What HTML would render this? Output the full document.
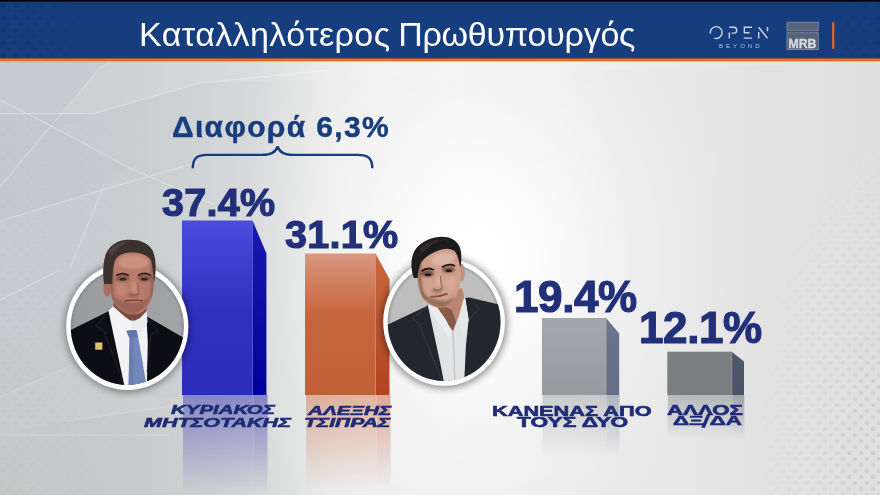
<!DOCTYPE html>
<html lang="el">
<head>
<meta charset="utf-8">
<title>Καταλληλότερος Πρωθυπουργός</title>
<style>
html,body{margin:0;padding:0;}
body{width:880px;height:495px;overflow:hidden;position:relative;background:#dcdcdc;font-family:"Liberation Sans",sans-serif;}
#stage{position:absolute;left:0;top:0;width:880px;height:495px;overflow:hidden;
  background:
    radial-gradient(ellipse 260px 330px at 480px 260px, rgba(255,255,255,1) 0%, rgba(255,255,255,0.8) 25%, rgba(255,255,255,0.4) 50%, rgba(255,255,255,0.29) 60%, rgba(255,255,255,0.09) 80%, rgba(255,255,255,0) 100%),
    radial-gradient(ellipse 300px 230px at 0px 495px, rgba(197,195,192,0.55) 0%, rgba(197,195,192,0.3) 50%, rgba(197,195,192,0) 100%),
    linear-gradient(90deg, #c7cbd0 0px, #c9cdd0 130px, #d6d8da 250px, #e0e1e1 290px, #ebebeb 335px, #efefef 450px, #ebebeb 560px, #e8e8e8 620px, #e7e7e7 700px, #e2e2e2 760px, #dfdfdf 880px);
}
#topbar{position:absolute;left:0;top:0;width:880px;height:59px;background:#163d7e;}
#title{position:absolute;left:139px;top:13.5px;width:494px;height:40px;color:#fff;font-size:34px;line-height:40px;white-space:nowrap;letter-spacing:0.05px;}
.pct,#diff,#title,.ln,#hdr{will-change:transform;}
.pct{position:absolute;color:#22307a;font-weight:bold;font-size:39.5px;line-height:40px;white-space:nowrap;letter-spacing:0.3px;-webkit-text-stroke:1.2px #22307a;}
#diff{position:absolute;color:#173d7e;font-weight:bold;font-size:30px;line-height:32px;white-space:nowrap;letter-spacing:1.35px;-webkit-text-stroke:0.45px #173d7e;}
.ln{position:absolute;display:block;color:#1f2d78;font-weight:bold;white-space:pre;transform-origin:0 0;-webkit-text-stroke:0.6px #1f2d78;}
.ln.it{font-style:italic;}
svg{position:absolute;left:0;top:0;}
</style>
</head>
<body>
<div id="stage">
<svg id="deco" width="880" height="495" viewBox="0 0 880 495">
  <defs>
    <pattern id="gd" x="0" y="0" width="12" height="12" patternUnits="userSpaceOnUse"><ellipse cx="3" cy="3" rx="2.3" ry="1.9" fill="#bdbdbd"/><ellipse cx="9" cy="9" rx="2.3" ry="1.9" fill="#bdbdbd"/></pattern>
    <linearGradient id="gfR" x1="0" y1="0" x2="1" y2="0"><stop offset="0" stop-color="#fff" stop-opacity="0"/><stop offset="0.5" stop-color="#fff" stop-opacity="0.10"/><stop offset="1" stop-color="#fff" stop-opacity="0.30"/></linearGradient>
    <linearGradient id="gfL" x1="0" y1="0" x2="1" y2="0"><stop offset="0" stop-color="#fff" stop-opacity="0.2"/><stop offset="1" stop-color="#fff" stop-opacity="0"/></linearGradient>
    <radialGradient id="gfRR" cx="880" cy="470" r="1" gradientUnits="userSpaceOnUse" gradientTransform="translate(880 470) scale(125 330) translate(-880 -470)"><stop offset="0" stop-color="#fff" stop-opacity="0.5"/><stop offset="0.5" stop-color="#fff" stop-opacity="0.22"/><stop offset="1" stop-color="#fff" stop-opacity="0"/></radialGradient>
    <mask id="mgR"><rect x="740" y="61" width="140" height="434" fill="url(#gfRR)"/></mask>
    <mask id="mgL"><rect x="0" y="110" width="140" height="385" fill="url(#gfL)"/></mask>
  </defs>
  <!-- facets -->
  <polygon points="0,113.7 94,113.7 57,129 127,167 94,192 0,221" fill="#b9bec3" opacity="0.22"/>
  <polygon points="100,67.7 111,62 880,62 200,83 94,113.7 62,113.7" fill="#ffffff" opacity="0.10"/>
  <polygon points="0,397 72,365 110,392 200,402 67,421 0,435" fill="#ffffff" opacity="0.06"/>
  <rect x="740" y="61" width="140" height="434" fill="url(#gd)" mask="url(#mgR)"/>
  <rect x="0" y="110" width="140" height="385" fill="url(#gd)" mask="url(#mgL)"/>
  <g fill="none" stroke="#ffffff" stroke-width="1" opacity="0.33">
    <path d="M111,62 L100,67.7 L0,186.7"/>
    <path d="M0,113.7 L94,113.7 L200,83 L330,70"/>
    <path d="M0,100 L57,129 L127,167 L215,205"/>
    <path d="M200,161.7 L94,192.4 L0,221"/>
    <path d="M103.6,186.7 L70,268"/>
    <path d="M0,300 L60,270"/>
    <path d="M0,397 L72,365 L110,392" opacity="0.6"/>
    <path d="M67,421 L200,402" opacity="0.6"/>
    <path d="M0,435 L170,435" opacity="0.5"/>
  </g>
</svg>


<svg id="bars" width="880" height="495" viewBox="0 0 880 495">
  <defs>
    <linearGradient id="gBlueF" x1="0" y1="0" x2="0" y2="1"><stop offset="0" stop-color="#4b4bdc"/><stop offset="0.25" stop-color="#3d3dcf"/><stop offset="0.5" stop-color="#3131c1"/><stop offset="1" stop-color="#2d2dbb"/></linearGradient>
    <linearGradient id="gBlueS" x1="0" y1="0" x2="0" y2="1"><stop offset="0" stop-color="#1a1ab0"/><stop offset="1" stop-color="#02029a"/></linearGradient>
    <linearGradient id="gOrF" x1="0" y1="0" x2="0" y2="1"><stop offset="0" stop-color="#da987f"/><stop offset="0.22" stop-color="#cf7d5c"/><stop offset="0.42" stop-color="#c5663f"/><stop offset="1" stop-color="#c16038"/></linearGradient>
    <linearGradient id="gOrS" x1="0" y1="0" x2="0" y2="1"><stop offset="0" stop-color="#c8683f"/><stop offset="1" stop-color="#b14420"/></linearGradient>
    <linearGradient id="gG1F" x1="0" y1="0" x2="0" y2="1"><stop offset="0" stop-color="#a4a8ac"/><stop offset="1" stop-color="#959a9e"/></linearGradient>
    <linearGradient id="gG1S" x1="0" y1="0" x2="0" y2="1"><stop offset="0" stop-color="#6c748c"/><stop offset="1" stop-color="#666e86"/></linearGradient>
    <linearGradient id="gG2F" x1="0" y1="0" x2="0" y2="1"><stop offset="0" stop-color="#7c8184"/><stop offset="1" stop-color="#787d80"/></linearGradient>
    <linearGradient id="gG2S" x1="0" y1="0" x2="0" y2="1"><stop offset="0" stop-color="#4e576b"/><stop offset="1" stop-color="#4a5367"/></linearGradient>
    <linearGradient id="fade" x1="0" y1="0" x2="0" y2="1"><stop offset="0" stop-color="#fff" stop-opacity="0.46"/><stop offset="1" stop-color="#fff" stop-opacity="0"/></linearGradient>
    <mask id="mBlue"><rect x="170" y="395" width="110" height="100" fill="url(#fade)"/></mask>
    <mask id="mOr"><rect x="295" y="395" width="110" height="95" fill="url(#fade)"/></mask>
    <mask id="mG1"><rect x="530" y="395" width="110" height="62" fill="url(#fade)"/></mask>
    <mask id="mG2"><rect x="655" y="395" width="110" height="44" fill="url(#fade)"/></mask>
  </defs>

  <!-- reflections -->
  <g mask="url(#mBlue)"><rect x="183" y="395" width="70.5" height="100" fill="#3030b3"/><rect x="253.5" y="395" width="14" height="100" fill="#1c1ca0"/></g>
  <g mask="url(#mOr)"><rect x="306" y="395" width="70.5" height="100" fill="#cb693e"/><rect x="376.5" y="395" width="14" height="100" fill="#c2502c"/></g>
  <g mask="url(#mG1)"><rect x="542.5" y="395" width="64" height="70" fill="#959a9e"/><rect x="606.5" y="395" width="13" height="70" fill="#687085"/></g>
  <g mask="url(#mG2)"><rect x="667.8" y="395" width="64.5" height="50" fill="#797e81"/><rect x="732.3" y="395" width="12" height="50" fill="#4b5468"/></g>

  <!-- bars -->
  <rect x="182" y="220.5" width="70.5" height="174.5" fill="url(#gBlueF)"/>
  <polygon points="252.5,220.5 266.4,253.5 266.4,395 252.5,395" fill="url(#gBlueS)"/>
  <rect x="252.2" y="220.5" width="0.8" height="174.5" fill="#5c5ce0" opacity="0.7"/>

  <rect x="305" y="253.5" width="70.5" height="141.5" fill="url(#gOrF)"/>
  <polygon points="375.5,253.5 389.5,279 389.5,395 375.5,395" fill="url(#gOrS)"/>
  <rect x="375.2" y="253.5" width="0.8" height="141.5" fill="#d98a68" opacity="0.7"/>

  <rect x="542" y="318" width="64" height="77" fill="url(#gG1F)"/>
  <polygon points="606,318 619.2,333.5 619.2,395 606,395" fill="url(#gG1S)"/>
  <rect x="605.7" y="318" width="0.8" height="77" fill="#b0b4ba" opacity="0.7"/>

  <rect x="667.3" y="351.7" width="64.5" height="43.3" fill="url(#gG2F)"/>
  <polygon points="731.8,351.7 744,361.4 744,395 731.8,395" fill="url(#gG2S)"/>
  <rect x="731.5" y="351.7" width="0.8" height="43.3" fill="#8d9399" opacity="0.7"/>

  <!-- brace -->
  <path d="M192.8,168.2 C192.8,158.5 197,154.9 207,154.9 L262,154.9 C271,154.9 276,152.6 277.6,146.4 C279.2,152.6 284,154.9 293,154.9 L358,154.9 C368,154.9 372.3,158.5 372.3,168.2" fill="none" stroke="#173d7e" stroke-width="2.4" stroke-linecap="butt"/>
</svg>

<svg id="ports" width="880" height="495" viewBox="0 0 880 495">
  <defs>
    <filter id="sh" x="-20%" y="-20%" width="140%" height="140%"><feGaussianBlur stdDeviation="3.6"/></filter>
    <filter id="b1" x="-10%" y="-10%" width="120%" height="120%"><feGaussianBlur stdDeviation="0.55"/></filter>
    <filter id="b2" x="-20%" y="-20%" width="140%" height="140%"><feGaussianBlur stdDeviation="1.3"/></filter>
    <clipPath id="c1"><ellipse cx="127.3" cy="326.6" rx="56.6" ry="58.3"/></clipPath>
    <clipPath id="cf1"><path d="M111,266 C110,276 110,288 111.5,296 C113.5,304 119,310.5 127,313.5 C131,314.8 137,314.6 141,313 C147,309.5 151.5,302 153.3,290 C154.3,280 154,268 152.5,258 C146,245 119,245 112,258 Z"/></clipPath>
    <clipPath id="cf2"><path d="M417,270 C416.8,279 418,288 421,295 C425,302.5 431,306.5 439,307.8 C446,308.3 451.5,304.5 455.5,297.5 C459,290.5 460.8,281 460.6,271 C460.2,262 458,253 455,247.5 C447,240 424,247 418,260 Z"/></clipPath>
    <clipPath id="c2"><ellipse cx="444.1" cy="322" rx="56.4" ry="59"/></clipPath>
    <linearGradient id="bg1" x1="0" y1="0" x2="1" y2="0"><stop offset="0" stop-color="#989a9c"/><stop offset="1" stop-color="#a4a5a6"/></linearGradient>
    <linearGradient id="bg2" x1="0" y1="0" x2="1" y2="0.3"><stop offset="0" stop-color="#bcbcbc"/><stop offset="1" stop-color="#c0c0c0"/></linearGradient>
    <linearGradient id="sk1" x1="0" y1="0" x2="1" y2="0"><stop offset="0" stop-color="#a27a66"/><stop offset="0.35" stop-color="#c29c88"/><stop offset="0.75" stop-color="#b89080"/><stop offset="1" stop-color="#936a58"/></linearGradient>
    <linearGradient id="sk2" x1="0" y1="0" x2="1" y2="0"><stop offset="0" stop-color="#8a5c4a"/><stop offset="0.35" stop-color="#c0927c"/><stop offset="0.8" stop-color="#cfa690"/><stop offset="1" stop-color="#c0957f"/></linearGradient>
  </defs>

  <!-- ===== portrait 1 ===== -->
  <ellipse cx="127.5" cy="327.2" rx="63" ry="65.5" fill="#000" opacity="0.36" filter="url(#sh)"/>
  <ellipse cx="127.3" cy="326.6" rx="61.1" ry="63.5" fill="#fdfdfd"/>
  <g clip-path="url(#c1)">
    <rect x="60" y="255" width="140" height="140" fill="url(#bg1)"/>
    <ellipse cx="127.3" cy="326.6" rx="58.5" ry="60.2" fill="none" stroke="#000" stroke-width="7" opacity="0.14" filter="url(#b2)"/>
    <g filter="url(#b1)">
      <!-- suit -->
      <polygon points="55,400 55,338 71.3,329.8 109,311 146,316 181,336.3 200,346 200,400" fill="#0e0e15"/>
      <!-- shirt -->
      <polygon points="108.5,311 113,306 146,309 147.8,342 146.8,390 125.3,390" fill="#f2f2f4"/>
      <!-- lapel creases -->
      <path d="M108.5,311 L96,326 L104,331 L125,388" fill="none" stroke="#2a2a32" stroke-width="0.8"/>
      <path d="M146.5,318 L158,330 L151,335 L147,372" fill="none" stroke="#2a2a32" stroke-width="0.8"/>
      <!-- tie -->
      <polygon points="126.2,330.5 136.4,330 138.2,337 146,382 141,390 128.5,390 129.5,338" fill="#7388ba"/>
      <polygon points="126.2,330.5 136.4,330 138.2,337 129.5,338" fill="#6177ab"/>
      <polygon points="129.5,338 133,337.6 133.5,390 128.5,390" fill="#5f74a8" opacity="0.55"/>
      <!-- pin -->
      <rect x="95.2" y="342.5" width="7.2" height="7.2" fill="#dfc070"/>
    </g>
  </g>
  <g filter="url(#b1)">
    <!-- neck -->
    <polygon points="114,300 147,300 146,316 138,321 124,320 113,312" fill="#7a4c42"/>
    <!-- collar wings -->
    <polygon points="108.5,311 114,307 124,316 132,322 131,330 126.2,330.5 122,336" fill="#f4f4f6"/>
    <polygon points="146.8,311 147.5,322 140.5,337 136.4,330 131,330 132,322 140,318" fill="#ececf0"/>
    <!-- ear -->
    <ellipse cx="107.3" cy="287" rx="4" ry="9.5" fill="#a66c5e"/>
    <!-- face -->
    <path d="M111,266 C110,276 110,288 111.5,296 C113.5,304 119,310.5 127,313.5 C131,314.8 137,314.6 141,313 C147,309.5 151.5,302 153.3,290 C154.3,280 154,268 152.5,258 C146,245 119,245 112,258 Z" fill="#b97c6c"/>
    <g clip-path="url(#cf1)"><g filter="url(#b2)">
      <ellipse cx="133" cy="262" rx="15" ry="7" fill="#cc9482" opacity="0.9"/>
      <ellipse cx="121" cy="290" rx="5" ry="6" fill="#c68878" opacity="0.8"/>
      <ellipse cx="147" cy="290" rx="4" ry="6" fill="#b27868" opacity="0.8"/>
      <ellipse cx="134.5" cy="287" rx="2.6" ry="6" fill="#ca907e" opacity="0.9"/>
      <ellipse cx="122.5" cy="278" rx="7" ry="3.4" fill="#4a3028" opacity="0.5"/>
      <ellipse cx="144.5" cy="278" rx="7" ry="3.4" fill="#4a3028" opacity="0.5"/>
      <path d="M112,295 C115,306 121,312 131,314 C140,314 148,307 152.5,294 C147,300 140,302.5 132,302.5 C124,302.5 117,300 112,295 Z" fill="#6c463e" opacity="0.42"/>
      <rect x="150.5" y="262" width="4" height="36" fill="#7a4e46" opacity="0.6"/><rect x="109" y="270" width="4.5" height="34" fill="#7a4e46" opacity="0.55"/>
      <ellipse cx="133" cy="295" rx="5" ry="1.6" fill="#6a4638" opacity="0.6"/>
    </g></g>
    <!-- hair -->
    <path d="M104.3,284 C102.5,276 102.8,264 105.5,255 C108.5,246.5 116,241 125,240 C136,238.6 147,241.5 152,249.5 C156.3,257 156.6,270 154,283 C153.5,274 152.6,265 150.5,259.5 C146.5,254.5 139,252.5 131.5,252.6 C123.5,252.7 117.5,255.5 115,260.5 C113,266 112.6,275 112.4,284 Z" fill="#3a302e"/>
    <path d="M108,252 C112,245 120,241.5 130,241.5 C124,243 116,248 112,257 Z" fill="#5a4c48" opacity="0.6"/>
    <!-- brows / eyes -->
    <path d="M116,275.6 C120,273.2 125,273.2 129,275.4" fill="none" stroke="#33241f" stroke-width="1.7"/>
    <path d="M138,275.4 C142,273 147,273 151,275.6" fill="none" stroke="#33241f" stroke-width="1.7"/>
    <ellipse cx="123" cy="279.3" rx="3.3" ry="1.3" fill="#2e201c"/>
    <ellipse cx="144.5" cy="279.3" rx="3.3" ry="1.3" fill="#2e201c"/>
    <!-- nose -->
    <path d="M137.5,283 C138,288 138.5,291 139.5,293.5 C137,296 132,296 129.5,293.8" fill="none" stroke="#8a5f50" stroke-width="1.2" opacity="0.85"/>
    <!-- mouth -->
    <path d="M124.5,301 C130,300 137,300 143,300.6" fill="none" stroke="#6a433a" stroke-width="1.4"/>
  </g>

  <!-- ===== portrait 2 ===== -->
  <ellipse cx="444.3" cy="322.6" rx="63" ry="65.8" fill="#000" opacity="0.42" filter="url(#sh)"/>
  <ellipse cx="444.1" cy="322" rx="60.9" ry="63.8" fill="#fdfdfd"/>
  <g clip-path="url(#c2)">
    <rect x="375" y="250" width="140" height="140" fill="url(#bg2)"/>
    <ellipse cx="444.1" cy="322" rx="58.3" ry="60.9" fill="none" stroke="#000" stroke-width="7" opacity="0.2" filter="url(#b2)"/>
    <g filter="url(#b1)">
      <!-- suit -->
      <polygon points="375,400 375,331 389.6,323.8 428,305.5 445,300 469.4,297.5 499.2,304.6 512,312 512,400" fill="#24272f"/>
      <!-- shirt -->
      <polygon points="428,306 433,300 465.5,298.5 468.6,320 466,345 463.8,390 445.5,390 440,362" fill="#e1e3e4"/>
      <path d="M453,330 L455,388" fill="none" stroke="#c4c6c6" stroke-width="1.4"/>
      <!-- lapel creases -->
      <path d="M428,306 L413,318 L419,324 L444,386" fill="none" stroke="#3a3e48" stroke-width="0.9"/>
      <path d="M468.6,320 L479,309 L474,303" fill="none" stroke="#3a3e48" stroke-width="0.9"/>
    </g>
  </g>
  <g filter="url(#b1)">
    <!-- neck -->
    <polygon points="430,296 462,288 465,300 459,316 453,331 446,322 436,308" fill="#b88672"/>
    <polygon points="430,296 440,304 452,310 456,322 453,331 446,322 436,308" fill="#7a4e3c" opacity="0.75"/>
    <!-- collar wings -->
    <polygon points="428,306 432.5,300.5 446,320 452,332 448.5,338 438,322" fill="#ebeced"/>
    <polygon points="464.5,296 468.8,320 463,333 457,324 461,308" fill="#e6e7e8"/>
    <!-- ear -->
    <ellipse cx="461.6" cy="272.5" rx="3.4" ry="9" fill="#c09480"/>
    <!-- face -->
    <path d="M417,270 C416.8,279 418,288 421,295 C425,302.5 431,306.5 439,307.8 C446,308.3 451.5,304.5 455.5,297.5 C459,290.5 460.8,281 460.6,271 C460.2,262 458,253 455,247.5 C447,240 424,247 418,260 Z" fill="#cfa08c"/>
    <g clip-path="url(#cf2)"><g filter="url(#b2)">
      <ellipse cx="443" cy="259" rx="12" ry="6" fill="#ddb8a6" opacity="0.9" transform="rotate(-12 443 259)"/>
      <ellipse cx="451" cy="283" rx="5" ry="7" fill="#d8ac98" opacity="0.8"/>
      <ellipse cx="438.5" cy="281" rx="2.6" ry="6" fill="#dcb2a0" opacity="0.9"/>
      <path d="M416,262 C417,280 419,292 424,300 L426,300 C421.5,288 420.5,274 422,258 Z" fill="#5e3a2e" opacity="0.5"/>
      <ellipse cx="427.5" cy="273.5" rx="6.5" ry="3.6" fill="#3e2820" opacity="0.62"/>
      <ellipse cx="448.5" cy="269.5" rx="6.5" ry="3.6" fill="#3e2820" opacity="0.58"/>
      <path d="M420,290 C424,301 431,306.5 439,307.8 C446,308.3 452,304 456,296 C451,300 446,301.5 440,300.5 C432,299.5 425,296 420,290 Z" fill="#6e4436" opacity="0.55"/>
      <ellipse cx="437" cy="291" rx="5" ry="1.6" fill="#7a4e40" opacity="0.6"/>
    </g></g>
    <!-- hair -->
    <path d="M413.8,278 C411,270 410.6,261 413,254.5 C416,246 424,240 435,237.6 C446,235.3 455,238.5 459,245.5 C461.8,251 462,260 460.2,268 C459.2,261 457.6,255 455,251.5 C451,248.3 446,248 440,250 C432,252.5 424.5,257 421,262.5 C419,266.5 418,272 417.6,278 Z" fill="#1f1b1b"/>
    <path d="M419,249 C425,242 435,238.8 446,239.5 C437,241 428,246 422,254 Z" fill="#3c3636" opacity="0.6"/>
    <!-- brows / eyes -->
    <path d="M421.5,271.3 C425,268.4 430,268 434,270" fill="none" stroke="#1e1614" stroke-width="1.9"/>
    <path d="M442,267.3 C446,264.4 451,264 455,266" fill="none" stroke="#1e1614" stroke-width="1.9"/>
    <ellipse cx="428" cy="274.8" rx="3.2" ry="1.3" fill="#21161a"/>
    <ellipse cx="448.8" cy="270.8" rx="3.2" ry="1.3" fill="#21161a"/>
    <!-- nose -->
    <path d="M440.5,276 C440.5,281 441,285 442.5,288 C440,290.5 435.5,290.8 433,288.8" fill="none" stroke="#8c5e50" stroke-width="1.2" opacity="0.85"/>
    <!-- mouth -->
    <path d="M430.5,296.6 C435,297 442,296 447.5,293.6" fill="none" stroke="#8a4e4a" stroke-width="1.7"/>
  </g>
</svg>
<div id="diff" style="left:172px;top:110.5px;">Διαφορά 6,3%</div>
<div class="pct" id="p1" style="left:162px;top:181.5px;">37.4%</div>
<div class="pct" id="p2" style="left:285px;top:213.5px;">31.1%</div>
<div class="pct" id="p3" style="left:514px;top:276.5px;font-size:44px;letter-spacing:-0.4px;">19.4%</div>
<div class="pct" id="p4" style="left:639px;top:308.3px;font-size:44px;letter-spacing:-0.4px;">12.1%</div>

<div id="names">
<span class="ln it" style="left:170.5px;top:403.4px;font-size:13.3px;line-height:13.3px;transform:scaleX(1.537);">ΚΥΡΙΑΚΟΣ</span>
<span class="ln it" style="left:144.0px;top:416.1px;font-size:13.5px;line-height:13.5px;transform:scaleX(1.593);">ΜΗΤΣΟΤΑΚΗΣ</span>
<span class="ln it" style="left:308.1px;top:403.6px;font-size:13.3px;line-height:13.3px;transform:scaleX(1.554);">ΑΛΕΞΗΣ</span>
<span class="ln it" style="left:304.4px;top:415.9px;font-size:13.3px;line-height:13.3px;transform:scaleX(1.582);">ΤΣΙΠΡΑΣ</span>
<span class="ln" style="left:492.3px;top:403.9px;font-size:14.8px;line-height:14.8px;transform:scaleX(1.469);">ΚΑΝΕΝΑΣ ΑΠΟ</span>
<span class="ln" style="left:517.0px;top:415.0px;font-size:14.6px;line-height:14.6px;transform:scaleX(1.558);">ΤΟΥΣ ΔΥΟ</span>
<span class="ln" style="left:666.9px;top:403.6px;font-size:13.8px;line-height:13.8px;transform:scaleX(1.613);">ΑΛΛΟΣ</span>
<span class="ln" style="left:672.8px;top:414.3px;font-size:13.5px;line-height:13.5px;transform:scaleX(1.652);">ΔΞ<span style="display:inline-block;transform:translateY(1.1px) scaleY(1.3) skewX(-8deg);">/</span>ΔΑ</span>
</div>

<div id="topbar"></div>
<svg id="hdr" width="880" height="62" viewBox="0 0 880 62">
  <defs>
    <pattern id="dots" x="0" y="0" width="12.5" height="12.5" patternUnits="userSpaceOnUse"><circle cx="3" cy="5.5" r="2.1" fill="#103169"/><circle cx="9.2" cy="11.7" r="1.7" fill="#103169"/></pattern>
    <linearGradient id="dfL" x1="0" y1="0" x2="1" y2="0"><stop offset="0" stop-color="#fff" stop-opacity="0.6"/><stop offset="0.5" stop-color="#fff" stop-opacity="0.3"/><stop offset="1" stop-color="#fff" stop-opacity="0"/></linearGradient>
    <linearGradient id="dfR" x1="0" y1="0" x2="1" y2="0"><stop offset="0" stop-color="#fff" stop-opacity="0"/><stop offset="1" stop-color="#fff" stop-opacity="0.45"/></linearGradient>
    <mask id="mdL"><rect x="0" y="0" width="90" height="58" fill="url(#dfL)"/></mask>
    <mask id="mdR"><rect x="820" y="0" width="60" height="58" fill="url(#dfR)"/></mask>
  </defs>
  <rect x="0" y="0" width="880" height="1.55" fill="#000"/>
  <rect x="0" y="58.45" width="880" height="2.8" fill="#ff681a"/>
  <rect x="0" y="2" width="90" height="56" fill="url(#dots)" mask="url(#mdL)"/>
  <rect x="820" y="2" width="60" height="56" fill="url(#dots)" mask="url(#mdR)"/>
  <!-- OPEN -->
  <g fill="none" stroke="#cdd5e4" stroke-width="1.4" stroke-linecap="butt">
    <path d="M710.4,33.6 A5.9,5.9 0 1 1 714.3,38.1"/>
    <path d="M729.3,32.6 V38.6 M729.3,27.3 H733.8 A2.9,2.9 0 0 1 733.8,33.1 H731.6"/>
    <path d="M744.3,33.2 V27.3 H752 M744.3,32.7 H749.5 M743.8,38.1 H752"/>
    <path d="M758.7,38.6 V32 M758.7,27.2 L767.5,38.3 M767.5,27 V31.2"/>
  </g>
  <text x="719.1" y="47.9" font-family="Liberation Sans, sans-serif" font-size="6.1" letter-spacing="2.95" fill="#b4c0da">BEYOND</text>
  <!-- MRB -->
  <rect x="786.6" y="21.8" width="32" height="9.4" fill="#8b95aa"/>
  <rect x="787.3" y="22.5" width="30.6" height="8" fill="#596377"/>
  <rect x="786.6" y="31.2" width="32" height="1.2" fill="#41507a"/>
  <rect x="786.6" y="32.4" width="32" height="17.6" fill="#8b95aa"/>
  <rect x="787.3" y="33.1" width="30.6" height="16.2" fill="#596377"/>
  <text x="788.5" y="47.5" font-family="Liberation Sans, sans-serif" font-weight="bold" font-size="12.3" fill="#d6dae2" stroke="#d6dae2" stroke-width="0.35">MRB</text>
  <!-- orange tick -->
  <rect x="832.1" y="22.2" width="2.2" height="26.6" fill="#e8641c"/>
</svg>
<div id="title"><span style="letter-spacing:0.42px">Καταλληλότερος</span> <span style="letter-spacing:-0.25px;margin-left:-1.8px">Πρωθυπουργός</span></div>
</div>
</body>
</html>
